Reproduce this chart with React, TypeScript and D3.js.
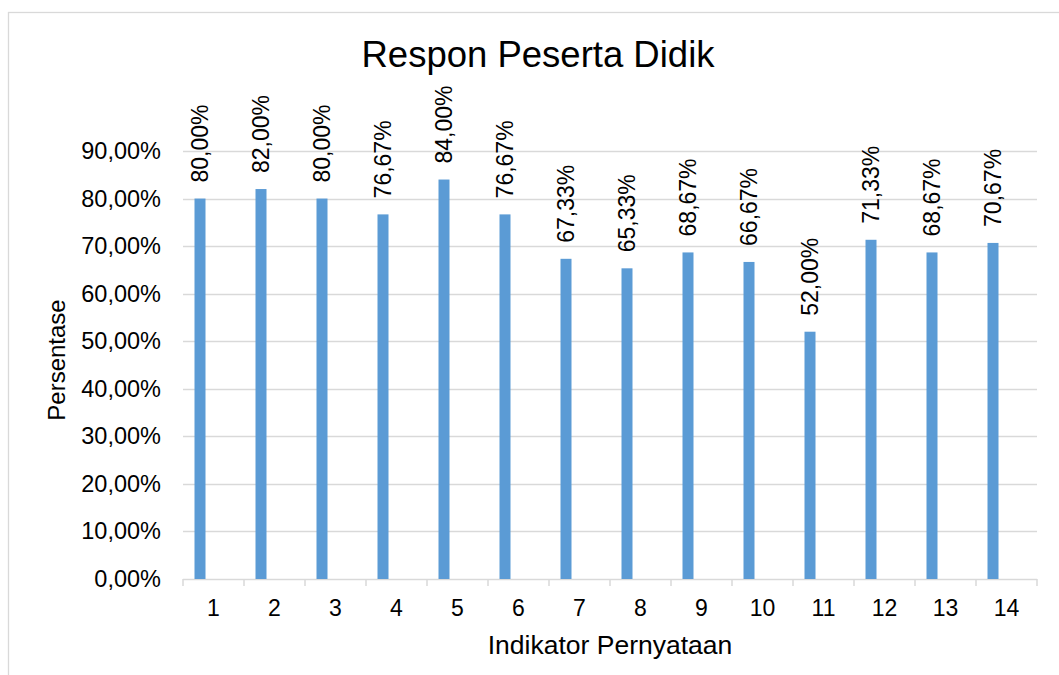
import React from "react";
import * as d3 from "d3";

const categories = ["1", "2", "3", "4", "5", "6", "7", "8", "9", "10", "11", "12", "13", "14"];
const values = [80.0, 82.0, 80.0, 76.67, 84.0, 76.67, 67.33, 65.33, 68.67, 66.67, 52.0, 71.33, 68.67, 70.67];
const yTicks = [0, 10, 20, 30, 40, 50, 60, 70, 80, 90];
const title = "Respon Peserta Didik";
const xTitle = "Indikator Pernyataan";
const yTitle = "Persentase";

const W = 1059;
const H = 675;
const FONT = "Liberation Sans, Arial, sans-serif";

const fmt = (v: number) => v.toFixed(2).replace(".", ",") + "%";

export default function App() {
  const x = d3.scaleBand<string>().domain(categories).range([183, 1037]).padding(0);
  const y = d3.scaleLinear().domain([0, 90]).range([579, 151]);
  const bw = x.bandwidth();
  const barW = 11;
  const barOff = 11.5;
  const grid = "#d9d9d9";

  return (
    <svg
      width={W}
      height={H}
      style={{ position: "absolute", left: 0, top: 0, background: "#fff" }}
      fontFamily={FONT}
    >
      <rect x={0} y={0} width={W} height={H} fill="#fff" />
      <rect x={8.5} y={12.5} width={1200} height={800} fill="none" stroke={grid} strokeWidth={1.3} />
      <text x={538} y={67} textAnchor="middle" fontSize={36.5} fill="#000">
        {title}
      </text>
      {yTicks.map((t) => (
        <g key={t}>
          {t > 0 && (
            <line x1={183} x2={1037} y1={Math.round(y(t)) + 0.5} y2={Math.round(y(t)) + 0.5} stroke={grid} strokeWidth={1.3} />
          )}
          <text x={161} y={y(t) + 8} textAnchor="end" fontSize={23.5} fill="#000">
            {t.toFixed(2).replace(".", ",") + "%"}
          </text>
        </g>
      ))}
      <line x1={183} x2={1037} y1={579.5} y2={579.5} stroke={grid} strokeWidth={1.5} />
      {categories.map((c) => (
        <line key={"t" + c} x1={x(c)!} x2={x(c)!} y1={579} y2={586} stroke={grid} strokeWidth={1.5} />
      ))}
      <line x1={1037} x2={1037} y1={579} y2={586} stroke={grid} strokeWidth={1.5} />
      {categories.map((c, i) => (
        <rect key={"b" + c} x={x(c)! + barOff} y={y(values[i])} width={barW} height={y(0) - y(values[i])} fill="#5b9bd5" />
      ))}
      {categories.map((c, i) => {
        const cx = x(c)! + barOff + barW / 2 + 8;
        const cy = y(values[i]) - 16;
        return (
          <text key={"l" + c} transform={`translate(${cx},${cy}) rotate(-90)`} fontSize={23} fill="#000">
            {fmt(values[i])}
          </text>
        );
      })}
      {categories.map((c) => (
        <text key={"x" + c} x={x(c)! + bw / 2} y={616} textAnchor="middle" fontSize={23} fill="#000">
          {c}
        </text>
      ))}
      <text x={610} y={654} textAnchor="middle" fontSize={26.5} fill="#000">
        {xTitle}
      </text>
      <text transform={`translate(65,360) rotate(-90)`} textAnchor="middle" fontSize={24} fill="#000">
        {yTitle}
      </text>
    </svg>
  );
}
